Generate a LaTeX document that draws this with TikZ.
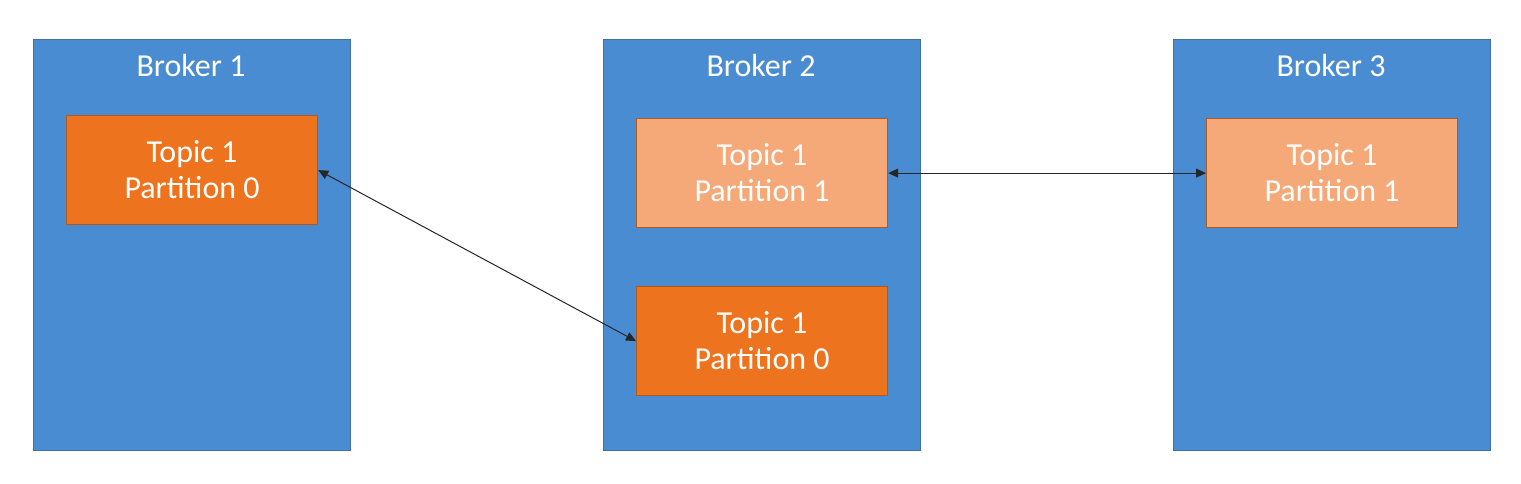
\documentclass[tikz,border=0pt]{standalone}
\usepackage{fontspec}
\setmainfont{Carlito}
\usetikzlibrary{arrows.meta}
\definecolor{brokerblue}{HTML}{4A8CD2}
\definecolor{brokerline}{HTML}{41719C}
\definecolor{darkorange}{HTML}{ED731E}
\definecolor{lightorange}{HTML}{F5A878}
\definecolor{orangeline}{HTML}{B05A22}
\begin{document}
\begin{tikzpicture}[x=1pt,y=-1pt,
  broker/.style={draw=brokerline,line width=1.2pt,fill=brokerblue,minimum width=317pt,minimum height=411pt,anchor=north west,inner sep=0pt},
  part/.style={draw=orangeline,line width=1.2pt,minimum width=251pt,minimum height=109pt,anchor=north west,text=white,align=center,font=\fontsize{32}{36}\selectfont,inner sep=0pt},
  leader/.style={part,fill=darkorange},
  follower/.style={part,fill=lightorange},
  title/.style={text=white,font=\fontsize{32}{36}\selectfont,anchor=center},
  link/.style={{Triangle[length=10pt,width=9pt]}-{Triangle[length=10pt,width=9pt]},line width=1pt,draw=black!85}
]
\useasboundingbox[fill=white] (0,0) rectangle (1521,483);
\node[broker] (b1) at (33,39) {};
\node[broker] (b2) at (603,39) {};
\node[broker] (b3) at (1173,39) {};
\node[title] (t1) at (191,65) {Broker 1};
\node[title] (t2) at (761,65) {Broker 2};
\node[title] (t3) at (1331,65) {Broker 3};
\node[leader] (p10) at (66,115) {Topic 1\\Partition 0};
\node[follower] (p21) at (636,118) {Topic 1\\Partition 1};
\node[leader] (p20) at (636,286) {Topic 1\\Partition 0};
\node[follower] (p31) at (1206,118) {Topic 1\\Partition 1};
\draw[link] (p10.east) -- (p20.west);
\draw[link] (p21.east) -- (p31.west);
\end{tikzpicture}
\end{document}
